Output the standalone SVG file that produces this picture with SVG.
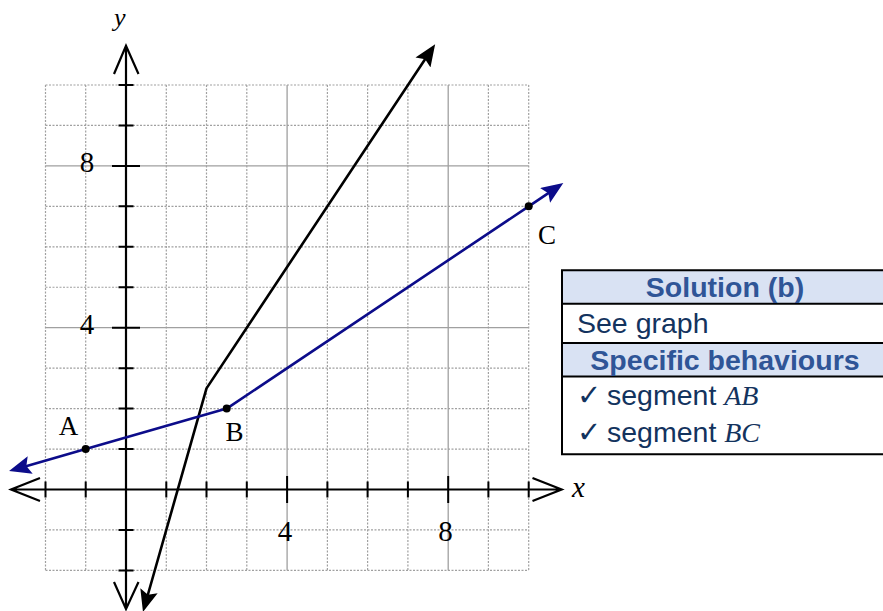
<svg xmlns="http://www.w3.org/2000/svg" width="883" height="611" viewBox="0 0 883 611">
<style>
.grid{stroke:#a0a0a0;stroke-width:1.2;stroke-dasharray:2 1.5;fill:none}
.major{stroke:#a0a0a0;stroke-width:1.3;fill:none}
.axis{stroke:#000;stroke-width:2.2;fill:none}
.tick{stroke:#000;stroke-width:2;fill:none}
.num{font-family:"Liberation Serif",serif;font-size:29px;fill:#000}
.var{font-family:"Liberation Serif",serif;font-size:29px;font-style:italic;fill:#000}
.pt{font-family:"Liberation Serif",serif;font-size:27px;fill:#000}
.hdr{fill:#d9e2f3}
.hdrt{font-family:"Liberation Sans",Arial,sans-serif;font-size:28.5px;font-weight:bold;fill:#2f5597}
.body{font-family:"Liberation Sans",Arial,sans-serif;font-size:28.5px;fill:#13335e}
.math{font-family:"Liberation Serif",serif;font-size:28px;font-style:italic;fill:#13335e}
.chk{font-family:"DejaVu Sans",sans-serif;font-size:29px;font-weight:bold;fill:#13335e}
.bd{stroke:#000;stroke-width:2;fill:none}
</style>
<defs>
<marker id="ahk" viewBox="0 0 22 18" refX="8" refY="9" markerWidth="22" markerHeight="18" markerUnits="userSpaceOnUse" orient="auto-start-reverse">
<path d="M0,0 L22,9 L0,18 L4,9 z" fill="#000"/>
</marker>
<marker id="ahb" viewBox="0 0 22 18" refX="8" refY="9" markerWidth="22" markerHeight="18" markerUnits="userSpaceOnUse" orient="auto-start-reverse">
<path d="M0,0 L22,9 L0,18 L4,9 z" fill="#0c0c8a"/>
</marker>
</defs>

<g id="grid">
<path class="grid" d="M45.5,85V570.4M85.7,85V570.4M126,85V570.4M166.3,85V570.4M206.5,85V570.4M246.8,85V570.4M327.4,85V570.4M367.6,85V570.4M407.9,85V570.4M488.4,85V570.4M528.7,85V570.4"/>
<path class="grid" d="M45.5,570.4H528.7M45.5,529.95H528.7M45.5,449.05H528.7M45.5,408.6H528.7M45.5,368.15H528.7M45.5,287.25H528.7M45.5,246.8H528.7M45.5,206.35H528.7M45.5,125.45H528.7M45.5,85H528.7"/>
<path class="major" d="M287.1,85V570.4M448.2,85V570.4M45.5,327.7H528.7M45.5,165.9H528.7"/>
</g>

<g id="axes">
<path class="axis" d="M11,489.5H561.7M40,478L11,489.5L40,501M532.5,478L561.7,489.5L532.5,501"/>
<path class="axis" d="M126,45.7V609M114,74L126,45.7L138.5,74M114,582L126,609L138.5,582"/>
<path class="tick" d="M118.5,570.4H133.5M118.5,529.95H133.5M118.5,449.05H133.5M118.5,408.6H133.5M118.5,368.15H133.5M118.5,287.25H133.5M118.5,246.8H133.5M118.5,206.35H133.5M118.5,125.45H133.5M118.5,85H133.5M112,327.7H140M112,165.9H140"/>
<path class="tick" d="M45.5,481.5V497.5M85.7,481.5V497.5M166.3,481.5V497.5M206.5,481.5V497.5M246.8,481.5V497.5M327.4,481.5V497.5M367.6,481.5V497.5M407.9,481.5V497.5M488.4,481.5V497.5M528.7,481.5V497.5M287.1,476V503M448.2,476V503"/>
<text class="var" x="114" y="25.5" style="font-size:26px">y</text>
<text class="var" x="572" y="497">x</text>
<text class="num" x="87" y="172" text-anchor="middle">8</text>
<text class="num" x="87" y="334" text-anchor="middle">4</text>
<text class="num" x="285" y="540.5" text-anchor="middle">4</text>
<text class="num" x="445.5" y="540.5" text-anchor="middle">8</text>
</g>

<g id="connectors">
<path id="line-black" d="M146.8,598.5 L206.5,388.4 L427.4,55.8" stroke="#000" stroke-width="2.6" fill="none" stroke-linejoin="round" marker-start="url(#ahk)" marker-end="url(#ahk)"/>
<path id="line-blue" d="M22.5,467.2 L85.7,449.05 L226.7,408.6 L528.7,206.35 L551.7,190.9" stroke="#0c0c8a" stroke-width="2.6" fill="none" stroke-linejoin="round" marker-start="url(#ahb)" marker-end="url(#ahb)"/>
</g>

<g id="point-A">
<circle cx="85.7" cy="449.05" r="4" fill="#000"/>
<text class="pt" x="68.5" y="434.5" text-anchor="middle">A</text>
</g>
<g id="point-B">
<circle cx="226.7" cy="408.6" r="4" fill="#000"/>
<text class="pt" x="234.5" y="440.5" text-anchor="middle">B</text>
</g>
<g id="point-C">
<circle cx="528.7" cy="206.35" r="4" fill="#000"/>
<text class="pt" x="547" y="243.5" text-anchor="middle">C</text>
</g>

<g id="table">
<rect class="hdr" x="562" y="270.3" width="330" height="33.4"/>
<rect class="hdr" x="562" y="343" width="330" height="33.5"/>
<path class="bd" d="M562,270.3H892M562,303.7H892M562,343H892M562,376.5H892M562,454.3H892M562,269.3V455.3"/>
<text class="hdrt" x="725" y="297" text-anchor="middle">Solution (b)</text>
<text class="body" x="577" y="333">See graph</text>
<text class="hdrt" x="725" y="369.5" text-anchor="middle">Specific behaviours</text>
<text class="chk" x="577" y="405">✓</text>
<text class="body" x="607" y="405">segment <tspan class="math">AB</tspan></text>
<text class="chk" x="577" y="442">✓</text>
<text class="body" x="607" y="442">segment <tspan class="math">BC</tspan></text>
</g>
</svg>
